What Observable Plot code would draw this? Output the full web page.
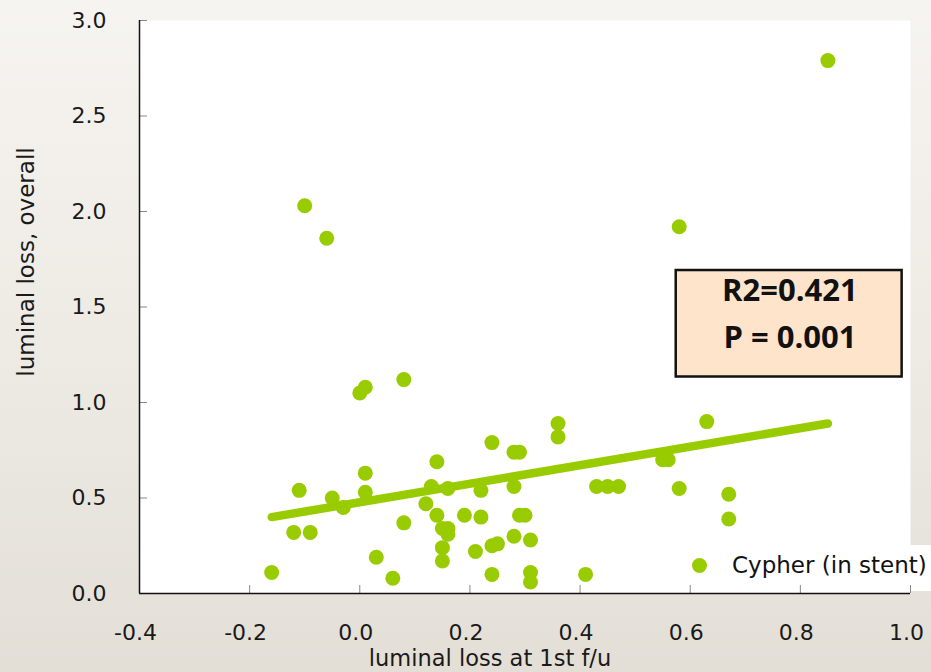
<!DOCTYPE html>
<html>
<head>
<meta charset="utf-8">
<script src="https://cdn.jsdelivr.net/npm/d3@7"></script>
<script src="https://cdn.jsdelivr.net/npm/@observablehq/plot@0.6"></script>
<style>
  html, body { margin: 0; padding: 0; }
  body {
    width: 931px; height: 672px; overflow: hidden;
    background: linear-gradient(to bottom, #f6f4f0 0%, #eeebe5 50%, #e3dfd7 100%);
    font-family: "DejaVu Sans", sans-serif;
  }
  #wrap { position: relative; width: 931px; height: 672px; }
  #legend-bg { position: absolute; left: 688px; top: 545px; width: 243px; height: 46px; background: #fff; z-index: 0; }
  #chart { position: absolute; left: 0; top: 0; z-index: 1; }
  #legend { position: absolute; left: 692px; top: 552px; z-index: 2; display: flex; align-items: center; white-space: nowrap;
    font-family: "DejaVu Sans", sans-serif; font-size: 23px; color: #111; }
  #legend .sw { display: inline-block; width: 15px; height: 15px; border-radius: 50%; background: #99cc00; margin-right: 25px; }
</style>
</head>
<body>
<div id="wrap">
  <div id="legend-bg"></div>
  <div id="chart"></div>
  <div id="legend"></div>
</div>
<script>
// ---- data ----
const seriesName = "Cypher (in stent)";
const xTitle = "luminal loss at 1st f/u";
const yTitle = "luminal loss, overall";

const lossFirst = [
  -0.16, -0.12, -0.09, -0.11, -0.10, -0.06, -0.05, -0.03, 0.00, 0.01,
   0.01,  0.01,  0.03,  0.06,  0.08,  0.08,  0.12,  0.13, 0.14, 0.14,
   0.15,  0.16,  0.16,  0.15,  0.15,  0.16,  0.19,  0.21, 0.22, 0.22,
   0.24,  0.24,  0.25,  0.24,  0.28,  0.29,  0.28,  0.28, 0.29, 0.30,
   0.31,  0.31,  0.31,  0.36,  0.36,  0.41,  0.43,  0.45, 0.47, 0.55,
   0.56,  0.58,  0.58,  0.63,  0.67,  0.67,  0.85
];
const lossOverall = [
  0.11, 0.32, 0.32, 0.54, 2.03, 1.86, 0.50, 0.45, 1.05, 1.08,
  0.63, 0.53, 0.19, 0.08, 1.12, 0.37, 0.47, 0.56, 0.69, 0.41,
  0.34, 0.34, 0.31, 0.24, 0.17, 0.55, 0.41, 0.22, 0.54, 0.40,
  0.79, 0.25, 0.26, 0.10, 0.74, 0.74, 0.56, 0.30, 0.41, 0.41,
  0.28, 0.11, 0.06, 0.89, 0.82, 0.10, 0.56, 0.56, 0.56, 0.70,
  0.70, 0.55, 1.92, 0.90, 0.52, 0.39, 2.79
];

// fitted trend line end points
const fitX = [-0.16, 0.85];
const fitY = [0.40, 0.89];

// tick values
const xTicks = [-0.4, -0.2, 0.0, 0.2, 0.4, 0.6, 0.8, 1.0];
const yTicks = [0.0, 0.5, 1.0, 1.5, 2.0, 2.5, 3.0];

// statistics annotation
const statLabels = ["R2=0.421", "P = 0.001"];

// ---- build ----
const points = lossFirst.map((x, i) => ({x, y: lossOverall[i]}));
const fit = fitX.map((x, i) => ({x, y: fitY[i]}));

// annotation anchors (data units)
const boxArea = [{x1: 0.5746, x2: 0.9848, y1: 1.1335, y2: 1.691}];
const statPos = [{x: 0.781, y: 1.585}, {x: 0.781, y: 1.338}];
const stats = statLabels.map((label, i) => ({label, ...statPos[i]}));

const green = "#99cc00";
const fmt = d => d.toFixed(1);

const chart = Plot.plot({
  width: 931,
  height: 672,
  marginLeft: 139,
  marginRight: 21,
  marginTop: 20,
  marginBottom: 79,
  x: {domain: [-0.4, 1.0]},
  y: {domain: [0, 3]},
  style: {background: "transparent", fontFamily: "DejaVu Sans, sans-serif", fontSize: "22px", color: "#1a1a1a", overflow: "visible"},
  marks: [
    Plot.frame({fill: "white", stroke: "none"}),
    // tick marks (inside)
    Plot.axisY({ticks: yTicks, tickSize: -8, tickFormat: () => "", stroke: "#888", label: null}),
    Plot.axisX({ticks: xTicks, tickSize: -8, tickFormat: () => "", stroke: "#888", label: null}),
    // tick labels
    Plot.axisY({ticks: yTicks, tickSize: 0, tickPadding: 33, tickFormat: fmt, fill: "#1a1a1a", fontSize: 22, label: null}),
    Plot.axisX({ticks: xTicks, tickSize: 0, tickPadding: 31, dx: -4, tickFormat: fmt, fill: "#1a1a1a", fontSize: 22, label: null}),
    // axis lines
    Plot.ruleX([-0.4], {stroke: "#111", strokeWidth: 1.5}),
    Plot.ruleY([0], {stroke: "#111", strokeWidth: 1.5}),
    // data
    Plot.dot(points, {x: "x", y: "y", r: 7.5, fill: green, stroke: "none"}),
    Plot.line(fit, {x: "x", y: "y", stroke: green, strokeWidth: 8.5, strokeLinecap: "round"}),
    // annotation box
    Plot.rect(boxArea, {x1: "x1", x2: "x2", y1: "y1", y2: "y2", fill: "#fde4cb", stroke: "#111", strokeWidth: 2.5}),
    Plot.text(stats, {x: "x", y: "y", text: "label", fontFamily: "Open Sans, sans-serif", fontWeight: "bold", fontSize: 31, fill: "#111", lineAnchor: "middle"}),
    // axis titles
    Plot.text([xTitle], {text: d => d, frameAnchor: "bottom", textAnchor: "middle", dx: -35, dy: 65, lineAnchor: "middle", fontSize: 22.5, fill: "#1a1a1a"}),
    Plot.text([yTitle], {text: d => d, frameAnchor: "left", textAnchor: "middle", rotate: -90, dx: -113, dy: -45, lineAnchor: "middle", fontSize: 23, fill: "#1a1a1a"})
  ]
});
document.getElementById("chart").appendChild(chart);

const legend = document.getElementById("legend");
const sw = document.createElement("span");
sw.className = "sw";
const lab = document.createElement("span");
lab.textContent = seriesName;
legend.appendChild(sw);
legend.appendChild(lab);
</script>
</body>
</html>
